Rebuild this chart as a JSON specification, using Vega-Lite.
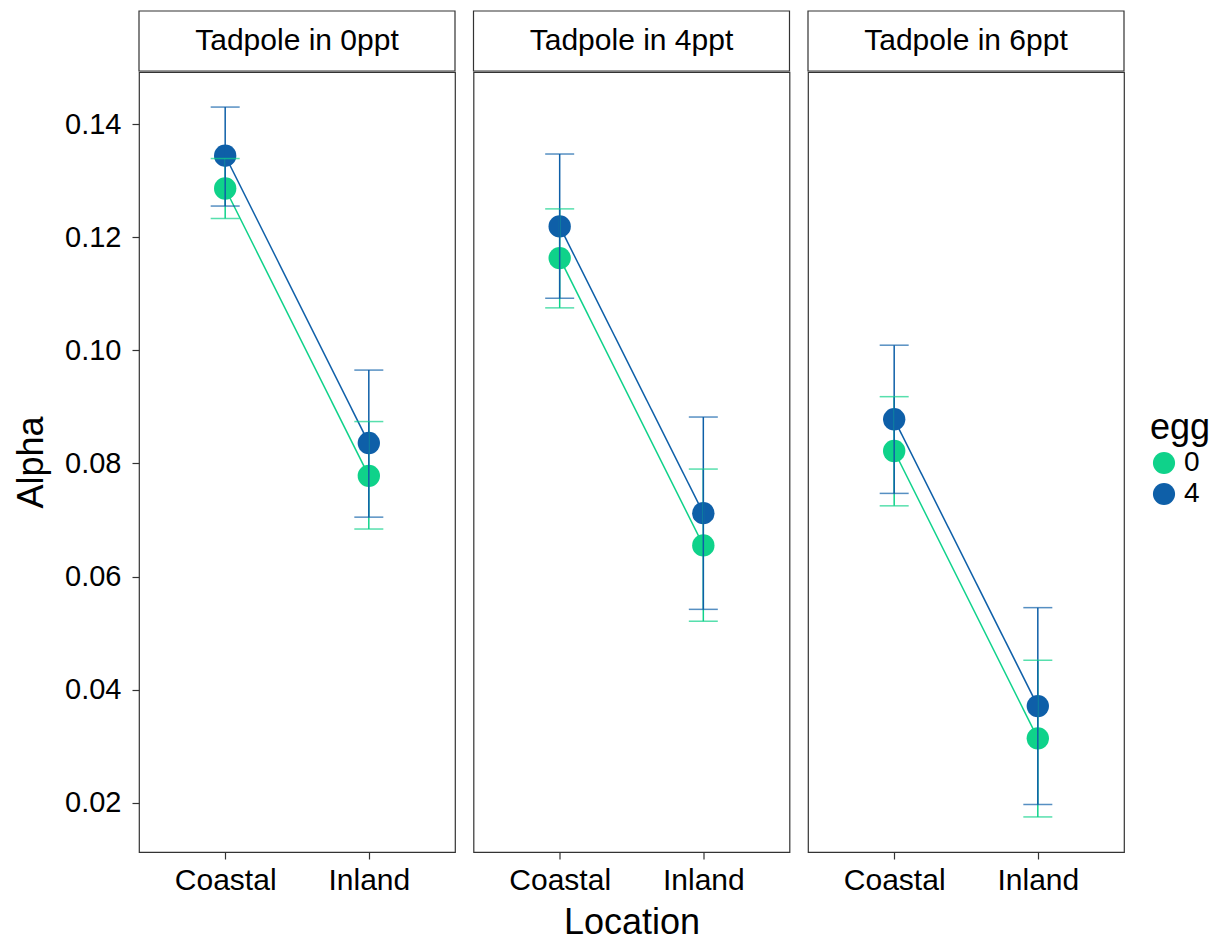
{
  "$schema": "https://vega.github.io/schema/vega-lite/v6.json",
  "padding": {"left": 12, "top": 10, "right": 5, "bottom": 2},
  "background": "white",
  "config": {
    "font": "Liberation Sans",
    "view": {"stroke": "#333333", "strokeWidth": 1.2},
    "axis": {"grid": false, "domain": false, "tickColor": "#333333", "tickSize": 7, "tickWidth": 1.2, "labelFontSize": 29, "labelColor": "#000000", "labelPadding": 6, "titleFontSize": 36, "titleFontWeight": "normal", "titleColor": "#000000"},
    "legend": {"titleFontSize": 36, "titleFontWeight": "normal", "titleColor": "#000000", "labelFontSize": 28, "labelColor": "#000000", "symbolSize": 490, "symbolType": "circle", "symbolStrokeWidth": 0, "rowPadding": 3, "titlePadding": 2, "labelOffset": 6}
  },
  "datasets": {
    "d": [
      {"panel": "Tadpole in 0ppt", "location": "Coastal", "egg": "0", "alpha": 0.1286, "lo": 0.1233, "hi": 0.1339},
      {"panel": "Tadpole in 0ppt", "location": "Inland", "egg": "0", "alpha": 0.0778, "lo": 0.0684, "hi": 0.0874},
      {"panel": "Tadpole in 0ppt", "location": "Coastal", "egg": "4", "alpha": 0.1344, "lo": 0.1255, "hi": 0.1430},
      {"panel": "Tadpole in 0ppt", "location": "Inland", "egg": "4", "alpha": 0.0836, "lo": 0.0705, "hi": 0.0965},
      {"panel": "Tadpole in 4ppt", "location": "Coastal", "egg": "0", "alpha": 0.1163, "lo": 0.1075, "hi": 0.1250},
      {"panel": "Tadpole in 4ppt", "location": "Inland", "egg": "0", "alpha": 0.0655, "lo": 0.0521, "hi": 0.0790},
      {"panel": "Tadpole in 4ppt", "location": "Coastal", "egg": "4", "alpha": 0.1219, "lo": 0.1092, "hi": 0.1347},
      {"panel": "Tadpole in 4ppt", "location": "Inland", "egg": "4", "alpha": 0.0712, "lo": 0.0542, "hi": 0.0882},
      {"panel": "Tadpole in 6ppt", "location": "Coastal", "egg": "0", "alpha": 0.0822, "lo": 0.0725, "hi": 0.0918},
      {"panel": "Tadpole in 6ppt", "location": "Inland", "egg": "0", "alpha": 0.0314, "lo": 0.0175, "hi": 0.0452},
      {"panel": "Tadpole in 6ppt", "location": "Coastal", "egg": "4", "alpha": 0.0878, "lo": 0.0747, "hi": 0.1009},
      {"panel": "Tadpole in 6ppt", "location": "Inland", "egg": "4", "alpha": 0.0371, "lo": 0.0197, "hi": 0.0545}
    ]
  },
  "spacing": 16.5,
  "hconcat": [
    {
      "spacing": -3,
      "vconcat": [
        {"width": 316, "height": 60, "data": {"values": [{"panel": "Tadpole in 0ppt"}]}, "layer": [
          {"mark": {"type": "rect", "fill": "#ffffff", "stroke": "#333333", "strokeWidth": 1.2}, "encoding": {}},
          {"mark": {"type": "text", "fontSize": 30, "color": "#000000"}, "encoding": {"text": {"field": "panel"}}}
        ]},
        {
          "width": 316, "height": 780,
          "data": {"name": "d"},
          "transform": [{"filter": "datum.panel === 'Tadpole in 0ppt'"}],
          "encoding": {
            "x": {"field": "location", "type": "nominal", "scale": {"type": "point", "padding": 0.6}, "axis": {"labelAngle": 0, "title": null, "labelFontSize": 30}},
            "color": {"field": "egg", "type": "nominal", "scale": {"domain": ["0", "4"], "range": ["#0FD28A", "#0E5FA8"]}, "legend": {"orient": "none", "legendX": 1011, "legendY": 400, "title": "egg"}}
          },
          "layer": [
            {"mark": {"type": "line", "strokeWidth": 1.5}, "encoding": {"y": {"field": "alpha", "type": "quantitative", "scale": {"domain": [0.0113, 0.1492], "nice": false, "zero": false}, "axis": {"title": "Alpha", "values": [0.02, 0.04, 0.06, 0.08, 0.1, 0.12, 0.14], "format": ".2f", "titlePadding": 14, "labelPadding": 11}}}},
            {"mark": {"type": "point", "filled": true, "size": 500, "opacity": 1}, "encoding": {"y": {"field": "alpha", "type": "quantitative"}}},
            {"mark": {"type": "rule", "strokeWidth": 1.5}, "encoding": {"y": {"field": "lo", "type": "quantitative"}, "y2": {"field": "hi"}}},
            {"mark": {"type": "tick", "orient": "horizontal", "size": 29, "thickness": 1.5}, "encoding": {"y": {"field": "lo", "type": "quantitative"}}},
            {"mark": {"type": "tick", "orient": "horizontal", "size": 29, "thickness": 1.5}, "encoding": {"y": {"field": "hi", "type": "quantitative"}}}
          ]
        }
      ]
    },
    {
      "spacing": -3,
      "vconcat": [
        {"width": 316, "height": 60, "data": {"values": [{"panel": "Tadpole in 4ppt"}]}, "layer": [
          {"mark": {"type": "rect", "fill": "#ffffff", "stroke": "#333333", "strokeWidth": 1.2}, "encoding": {}},
          {"mark": {"type": "text", "fontSize": 30, "color": "#000000"}, "encoding": {"text": {"field": "panel"}}}
        ]},
        {
          "width": 316, "height": 780,
          "data": {"name": "d"},
          "transform": [{"filter": "datum.panel === 'Tadpole in 4ppt'"}],
          "encoding": {
            "x": {"field": "location", "type": "nominal", "scale": {"type": "point", "padding": 0.6}, "axis": {"labelAngle": 0, "title": "Location", "titlePadding": 10, "labelFontSize": 30}},
            "color": {"field": "egg", "type": "nominal", "scale": {"domain": ["0", "4"], "range": ["#0FD28A", "#0E5FA8"]}, "legend": {"orient": "none", "legendX": 1011, "legendY": 400, "title": "egg"}}
          },
          "layer": [
            {"mark": {"type": "line", "strokeWidth": 1.5}, "encoding": {"y": {"field": "alpha", "type": "quantitative", "scale": {"domain": [0.0113, 0.1492], "nice": false, "zero": false}, "axis": null}}},
            {"mark": {"type": "point", "filled": true, "size": 500, "opacity": 1}, "encoding": {"y": {"field": "alpha", "type": "quantitative"}}},
            {"mark": {"type": "rule", "strokeWidth": 1.5}, "encoding": {"y": {"field": "lo", "type": "quantitative"}, "y2": {"field": "hi"}}},
            {"mark": {"type": "tick", "orient": "horizontal", "size": 29, "thickness": 1.5}, "encoding": {"y": {"field": "lo", "type": "quantitative"}}},
            {"mark": {"type": "tick", "orient": "horizontal", "size": 29, "thickness": 1.5}, "encoding": {"y": {"field": "hi", "type": "quantitative"}}}
          ]
        }
      ]
    },
    {
      "spacing": -3,
      "vconcat": [
        {"width": 316, "height": 60, "data": {"values": [{"panel": "Tadpole in 6ppt"}]}, "layer": [
          {"mark": {"type": "rect", "fill": "#ffffff", "stroke": "#333333", "strokeWidth": 1.2}, "encoding": {}},
          {"mark": {"type": "text", "fontSize": 30, "color": "#000000"}, "encoding": {"text": {"field": "panel"}}}
        ]},
        {
          "width": 316, "height": 780,
          "data": {"name": "d"},
          "transform": [{"filter": "datum.panel === 'Tadpole in 6ppt'"}],
          "encoding": {
            "x": {"field": "location", "type": "nominal", "scale": {"type": "point", "padding": 0.6}, "axis": {"labelAngle": 0, "title": null, "labelFontSize": 30}},
            "color": {"field": "egg", "type": "nominal", "scale": {"domain": ["0", "4"], "range": ["#0FD28A", "#0E5FA8"]}, "legend": {"orient": "none", "legendX": 1011, "legendY": 400, "title": "egg"}}
          },
          "layer": [
            {"mark": {"type": "line", "strokeWidth": 1.5}, "encoding": {"y": {"field": "alpha", "type": "quantitative", "scale": {"domain": [0.0113, 0.1492], "nice": false, "zero": false}, "axis": null}}},
            {"mark": {"type": "point", "filled": true, "size": 500, "opacity": 1}, "encoding": {"y": {"field": "alpha", "type": "quantitative"}}},
            {"mark": {"type": "rule", "strokeWidth": 1.5}, "encoding": {"y": {"field": "lo", "type": "quantitative"}, "y2": {"field": "hi"}}},
            {"mark": {"type": "tick", "orient": "horizontal", "size": 29, "thickness": 1.5}, "encoding": {"y": {"field": "lo", "type": "quantitative"}}},
            {"mark": {"type": "tick", "orient": "horizontal", "size": 29, "thickness": 1.5}, "encoding": {"y": {"field": "hi", "type": "quantitative"}}}
          ]
        }
      ]
    }
  ]
}
